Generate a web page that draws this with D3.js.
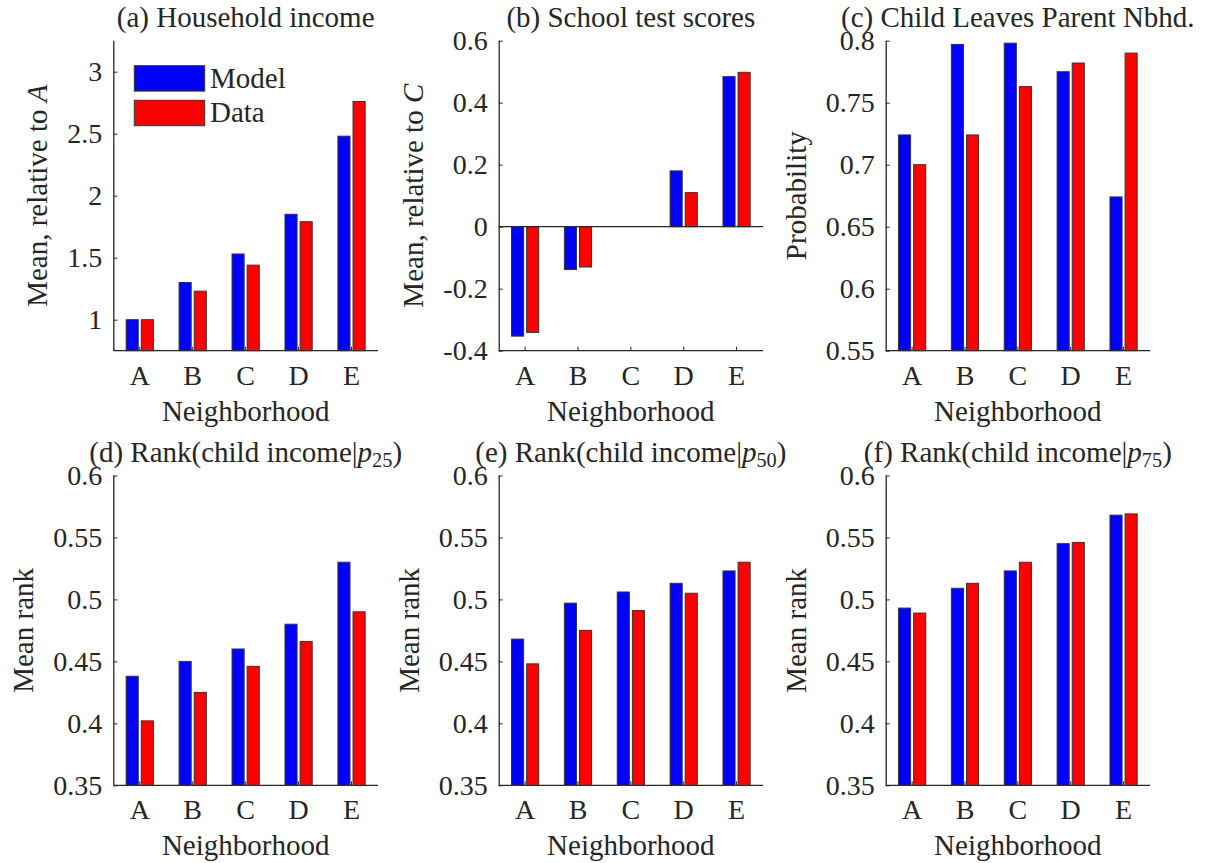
<!DOCTYPE html>
<html>
<head>
<meta charset="utf-8">
<script src="https://cdn.jsdelivr.net/npm/d3@7"></script>
<style>
  html, body { margin: 0; padding: 0; background: #fff; }
  svg { display: block; }
  text { font-family: "Liberation Serif", "DejaVu Serif", "Noto Serif", serif; fill: #262626; }
</style>
</head>
<body>
<svg id="fig" width="1217" height="863"></svg>
<script>
// Neighborhood categories and series names
const categories = ["A", "B", "C", "D", "E"];
const seriesNames = ["Model", "Data"];
const seriesColors = ["#0000ff", "#ff0000"];

// (a) Household income, mean relative to A
const incomeModel = [1.00, 1.30, 1.53, 1.85, 2.48];
const incomeData  = [1.00, 1.23, 1.44, 1.79, 2.76];
const incomeTicks = [1, 1.5, 2, 2.5, 3];
const incomeTickLabels = ["1", "1.5", "2", "2.5", "3"];

// (b) School test scores, mean relative to C
const testModel = [-0.353, -0.138, 0, 0.180, 0.484];
const testData  = [-0.341, -0.130, 0, 0.110, 0.498];
const testTicks = [-0.4, -0.2, 0, 0.2, 0.4, 0.6];
const testTickLabels = ["-0.4", "-0.2", "0", "0.2", "0.4", "0.6"];

// (c) Probability that the child leaves the parent neighborhood
const leaveModel = [0.724, 0.797, 0.798, 0.775, 0.674];
const leaveData  = [0.700, 0.724, 0.763, 0.782, 0.790];
const leaveTicks = [0.55, 0.6, 0.65, 0.7, 0.75, 0.8];
const leaveTickLabels = ["0.55", "0.6", "0.65", "0.7", "0.75", "0.8"];

// (d)-(f) Mean rank of child income by parent percentile
const rank25Model = [0.438, 0.450, 0.460, 0.480, 0.530];
const rank25Data  = [0.402, 0.425, 0.446, 0.466, 0.490];
const rank50Model = [0.468, 0.497, 0.506, 0.513, 0.523];
const rank50Data  = [0.448, 0.475, 0.491, 0.505, 0.530];
const rank75Model = [0.493, 0.509, 0.523, 0.545, 0.568];
const rank75Data  = [0.489, 0.513, 0.530, 0.546, 0.569];
const rankTicks = [0.35, 0.4, 0.45, 0.5, 0.55, 0.6];
const rankTickLabels = ["0.35", "0.4", "0.45", "0.5", "0.55", "0.6"];

const svg = d3.select("#fig");
const FONT = '"Liberation Serif", "DejaVu Serif", "Noto Serif", serif';

const colX = [[113.3, 378], [498.7, 763], [885.7, 1150]];
const rowY = [[40.7, 350.7], [475.5, 785.3]];

const TICK_FS = 28, LABEL_FS = 29;

const panels = [
  { col: 0, row: 0, title: [{t: "(a) Household income"}], ylab: [{t: "Mean, relative to "}, {t: "A", it: true}],
    domain: [0.75, 3.25], ticks: incomeTicks, tickLabels: incomeTickLabels, values: [incomeModel, incomeData], legend: true },
  { col: 1, row: 0, title: [{t: "(b) School test scores"}], ylab: [{t: "Mean, relative to "}, {t: "C", it: true}],
    domain: [-0.4, 0.6], ticks: testTicks, tickLabels: testTickLabels, values: [testModel, testData], baseline: true },
  { col: 2, row: 0, title: [{t: "(c) Child Leaves Parent Nbhd."}], ylab: [{t: "Probability"}],
    domain: [0.55, 0.8], ticks: leaveTicks, tickLabels: leaveTickLabels, values: [leaveModel, leaveData] },
  { col: 0, row: 1, title: [{t: "(d) Rank(child income|"}, {t: "p", it: true}, {t: "25", sub: true}, {t: ")"}], ylab: [{t: "Mean rank"}],
    domain: [0.35, 0.6], ticks: rankTicks, tickLabels: rankTickLabels, values: [rank25Model, rank25Data] },
  { col: 1, row: 1, title: [{t: "(e) Rank(child income|"}, {t: "p", it: true}, {t: "50", sub: true}, {t: ")"}], ylab: [{t: "Mean rank"}],
    domain: [0.35, 0.6], ticks: rankTicks, tickLabels: rankTickLabels, values: [rank50Model, rank50Data] },
  { col: 2, row: 1, title: [{t: "(f) Rank(child income|"}, {t: "p", it: true}, {t: "75", sub: true}, {t: ")"}], ylab: [{t: "Mean rank"}],
    domain: [0.35, 0.6], ticks: rankTicks, tickLabels: rankTickLabels, values: [rank75Model, rank75Data] },
];

function addRuns(textSel, runs) {
  runs.forEach(r => {
    const ts = textSel.append("tspan").text(r.t);
    if (r.it) ts.attr("font-style", "italic");
    if (r.sub) ts.attr("font-size", "0.7em").attr("baseline-shift", "-0.25em");
  });
}

panels.forEach(p => {
  const [x0, x1] = colX[p.col];
  const [y0, y1] = rowY[p.row];
  const g = svg.append("g");

  const x = d3.scaleBand().domain(categories).range([x0, x1]).padding(0);
  const bw = x.bandwidth();
  const groupW = bw * (2 / 3.5);
  const xs = d3.scaleBand().domain(seriesNames).range([0, groupW]).paddingInner(0.2).paddingOuter(0.1);
  const y = d3.scaleLinear().domain(p.domain).range([y1, y0]);
  const base = Math.max(p.domain[0], Math.min(p.domain[1], 0));

  // y axis: inward ticks, labels on the left
  const yAxis = g.append("g").attr("transform", `translate(${x0},0)`)
    .call(d3.axisRight(y).tickValues(p.ticks).tickSize(4).tickFormat((d, i) => p.tickLabels[i]));
  yAxis.attr("font-family", FONT);
  yAxis.select(".domain").attr("d", `M0.5,${y0}V${y1}`);
  yAxis.selectAll(".tick line").attr("stroke", "#262626");
  yAxis.selectAll(".tick text")
    .attr("x", -11).attr("dy", "0.33em").attr("text-anchor", "end")
    .attr("font-size", TICK_FS).attr("fill", "#262626")
    .style("font-family", FONT);

  // x axis: inward ticks, category letters below
  const xAxis = g.append("g").attr("transform", `translate(0,${y1})`)
    .call(d3.axisTop(x).tickSize(4).tickFormat(d => d));
  xAxis.attr("font-family", FONT);
  xAxis.select(".domain").attr("d", `M${x0},0H${x1}`);
  xAxis.selectAll(".tick line").attr("stroke", "#262626");
  xAxis.selectAll(".tick text")
    .attr("y", 34).attr("dy", 0).attr("text-anchor", "middle")
    .attr("font-size", TICK_FS).attr("fill", "#262626")
    .style("font-family", FONT);

  g.selectAll(".domain").attr("stroke", "#262626").attr("stroke-width", 1.3);

  // bars
  p.values.forEach((vals, si) => {
    g.append("g").selectAll("rect").data(vals).join("rect")
      .attr("x", (d, i) => x(categories[i]) + (bw - groupW) / 2 + xs(seriesNames[si]))
      .attr("width", xs.bandwidth())
      .attr("y", d => y(Math.max(d, base)))
      .attr("height", d => Math.abs(y(d) - y(base)))
      .attr("fill", seriesColors[si])
      .attr("stroke", "#333")
      .attr("stroke-width", 1);
  });

  if (p.baseline) {
    g.append("line").attr("x1", x0).attr("x2", x1)
      .attr("y1", y(0)).attr("y2", y(0))
      .attr("stroke", "#262626").attr("stroke-width", 1.2);
  }

  // title
  const title = g.append("text")
    .attr("x", (x0 + x1) / 2).attr("y", y0 - 14)
    .attr("text-anchor", "middle").attr("font-size", LABEL_FS)
    .style("font-family", FONT);
  addRuns(title, p.title);

  // x label
  g.append("text").attr("x", (x0 + x1) / 2).attr("y", y1 + 70)
    .attr("text-anchor", "middle").attr("font-size", LABEL_FS)
    .style("font-family", FONT)
    .text("Neighborhood");

  // y label placed left of the tick labels
  const tickLeft = d3.min(yAxis.selectAll(".tick text").nodes(), n => n.getBBox().x) + x0;
  const ylab = g.append("text")
    .attr("transform", `translate(${tickLeft - 20},${(y0 + y1) / 2}) rotate(-90)`)
    .attr("text-anchor", "middle").attr("font-size", LABEL_FS)
    .style("font-family", FONT);
  addRuns(ylab, p.ylab);

  // legend
  if (p.legend) {
    const lg = g.append("g");
    const ly = d3.scalePoint().domain(seriesNames).range([65.7, 100.3]);
    seriesNames.forEach((name, si) => {
      lg.append("rect").attr("x", 134.3).attr("y", ly(name))
        .attr("width", 70.4).attr("height", 25.4)
        .attr("fill", seriesColors[si]).attr("stroke", "#333").attr("stroke-width", 1);
      lg.append("text").attr("x", 210).attr("y", ly(name) + 22)
        .attr("font-size", LABEL_FS).style("font-family", FONT).text(name);
    });
  }
});
</script>
</body>
</html>
